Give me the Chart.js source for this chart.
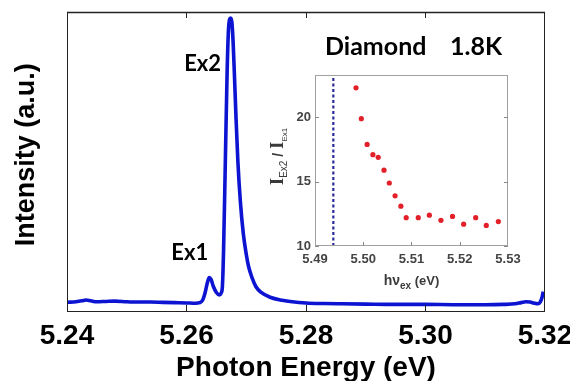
<!DOCTYPE html>
<html><head><meta charset="utf-8">
<script src="https://cdn.jsdelivr.net/npm/chart.js@4/dist/chart.umd.min.js"></script>
<style>
html,body{margin:0;padding:0;background:#fff;}
#wrap{position:relative;width:570px;height:381px;overflow:hidden;background:#fff;}
#main{position:absolute;left:0;top:0;}
#inset{position:absolute;left:250px;top:60px;}
</style></head><body>
<div id="wrap">
<canvas id="main" width="570" height="381"></canvas>
<canvas id="inset" width="300" height="245"></canvas>
</div>
<script>
// ---- Main spectrum ----
const photonEnergy = [5.2401,5.2415,5.2425,5.2432,5.2440,5.2450,5.2465,5.2480,5.2500,5.2520,5.2540,5.2560,5.2580,5.2600,5.2615,5.2622,5.2627,5.2631,5.2635,5.2638,5.2641,5.2645,5.2650,5.2655,5.2658,5.2660,5.2662,5.2665,5.2668,5.2670,5.2672,5.2674,5.2676,5.2678,5.2680,5.2683,5.2686,5.2690,5.2695,5.2700,5.2704,5.2710,5.2716,5.2725,5.2740,5.2760,5.2777,5.2800,5.2830,5.2860,5.2900,5.2950,5.3000,5.3050,5.3100,5.3130,5.3150,5.3160,5.3168,5.3175,5.3182,5.3188,5.3192,5.3195,5.3197];
const intensity = [0.029,0.031,0.034,0.037,0.034,0.031,0.032,0.033,0.031,0.030,0.030,0.029,0.028,0.027,0.026,0.028,0.036,0.060,0.095,0.112,0.106,0.082,0.062,0.054,0.060,0.080,0.20,0.50,0.80,0.93,0.975,0.98,0.965,0.90,0.80,0.64,0.50,0.37,0.26,0.19,0.148,0.11,0.082,0.062,0.046,0.036,0.031,0.027,0.025,0.024,0.023,0.022,0.022,0.021,0.021,0.022,0.024,0.028,0.031,0.030,0.026,0.024,0.030,0.045,0.065];
const mainTickValues = [5.24,5.26,5.28,5.30,5.32];
const mainTickLabels = ['5.24','5.26','5.28','5.30','5.32'];
const peakLabels = ['Ex1','Ex2'];
const peakEnergies = [5.2638,5.2673];
const sampleLabel = ['Diamond','1.8K'];

// ---- Inset ----
const excitationEnergy = [5.4985,5.4996,5.5008,5.5020,5.5031,5.5043,5.5054,5.5066,5.5078,5.5089,5.5114,5.5137,5.5161,5.5185,5.5208,5.5233,5.5255,5.5280];
const intensityRatio = [22.3,19.9,17.9,17.1,16.9,15.9,14.9,13.9,13.1,12.2,12.2,12.4,12.0,12.3,11.7,12.2,11.6,11.9];
const thresholdEnergy = 5.4938;
const insetTickValuesX = [5.49,5.50,5.51,5.52,5.53];
const insetTickLabelsX = ['5.49','5.50','5.51','5.52','5.53'];
const insetTickValuesY = [10,15,20];
const insetTickLabelsY = ['10','15','20'];

function labelFor(values, labels){
  return v => { const i = values.findIndex(t => Math.abs(t - v) < 1e-9); return i >= 0 ? labels[i] : ''; };
}

const mainDecor = {
  id: 'mainDecor',
  afterDatasetsDraw(chart){
    const {ctx, chartArea:a, scales:{x}} = chart;
    ctx.save();
    ctx.strokeStyle = '#222'; ctx.lineWidth = 1;
    ctx.strokeRect(a.left + 0.5, a.top + 0.5, a.right - a.left - 1, a.bottom - a.top);
    ctx.lineWidth = 1.5;
    ctx.beginPath(); ctx.moveTo(a.left, a.top + 0.5); ctx.lineTo(a.right, a.top + 0.5); ctx.stroke();
    ctx.lineWidth = 1;
    mainTickValues.slice(1, -1).forEach(v => {
      const px = Math.round(x.getPixelForValue(v)) + 0.5;
      ctx.beginPath(); ctx.moveTo(px, a.top); ctx.lineTo(px, a.top + 6);
      ctx.moveTo(px, a.bottom); ctx.lineTo(px, a.bottom - 6); ctx.stroke();
    });
    ctx.fillStyle = '#000';
    ctx.font = 'bold 22px Lato';
    ctx.textAlign = 'right'; ctx.textBaseline = 'alphabetic';
    ctx.fillText(peakLabels[1], x.getPixelForValue(peakEnergies[1]) - 9, 71);
    ctx.fillText(peakLabels[0], x.getPixelForValue(peakEnergies[0]) - 1, 260);
    ctx.textAlign = 'left';
    ctx.font = 'bold 25px Lato';
    ctx.fillText(sampleLabel[0], 325, 55);
    ctx.fillText(sampleLabel[1], 450, 55);
    ctx.restore();
  }
};

new Chart(document.getElementById('main'), {
  type: 'line',
  data: { datasets: [{
    data: photonEnergy.map((e, i) => ({x: e, y: intensity[i]})),
    borderColor: '#0c14d2', borderWidth: 3.6, pointRadius: 0,
    cubicInterpolationMode: 'monotone', fill: false
  }]},
  options: {
    responsive: false, animation: false, devicePixelRatio: 1,
    layout: { padding: { top: 12, right: 25, left: 0, bottom: 0 } },
    plugins: { legend: { display: false }, tooltip: { enabled: false } },
    scales: {
      x: {
        type: 'linear', min: 5.24, max: 5.32,
        afterFit(s){ s.height = 70; s.paddingLeft = 0; s.paddingRight = 0; },
        afterBuildTicks(s){ s.ticks = mainTickValues.map(v => ({value: v})); },
        ticks: { callback: labelFor(mainTickValues, mainTickLabels), font: {family: 'Liberation Sans', size: 28, weight: 'bold'}, color: '#000', padding: 8, maxRotation: 0, autoSkip: false },
        grid: { display: false, drawTicks: false }, border: { display: false },
        title: { display: true, text: 'Photon Energy (eV)', font: {family: 'Liberation Sans', size: 28, weight: 'bold'}, color: '#000', padding: {top: 0, bottom: -4} }
      },
      y: {
        min: 0, max: 1,
        afterFit(s){ s.width = 67; s.paddingTop = 0; s.paddingBottom = 0; },
        ticks: { display: false }, grid: { display: false, drawTicks: false }, border: { display: false },
        title: { display: true, text: '\u2002Intensity (a.u.)', font: {family: 'Liberation Sans', size: 27, weight: 'bold'}, color: '#000', padding: {top: 10, bottom: 0} }
      }
    }
  },
  plugins: [mainDecor]
});

const insetDecor = {
  id: 'insetDecor',
  afterDatasetsDraw(chart){
    const {ctx, chartArea:a, scales:{x, y}} = chart;
    ctx.save();
    ctx.strokeStyle = '#a0a0a0'; ctx.lineWidth = 1;
    ctx.strokeRect(a.left + 0.5, a.top + 0.5, a.right - a.left - 1, a.bottom - a.top - 1);
    ctx.strokeStyle = '#888';
    insetTickValuesY.forEach(v => {
      const py = Math.round(y.getPixelForValue(v)) + 0.5;
      ctx.beginPath(); ctx.moveTo(a.left, py); ctx.lineTo(a.left + 4, py);
      ctx.moveTo(a.right, py); ctx.lineTo(a.right - 4, py); ctx.stroke();
    });
    insetTickValuesX.slice(1, -1).forEach(v => {
      const px = Math.round(x.getPixelForValue(v)) + 0.5;
      ctx.beginPath(); ctx.moveTo(px, a.bottom); ctx.lineTo(px, a.bottom - 4); ctx.stroke();
    });
    ctx.fillStyle = '#3a3a3a';
    ctx.textBaseline = 'alphabetic'; ctx.textAlign = 'left';
    const parts = [
      {t: 'h\u03bd', f: 'bold 14px "Liberation Sans"', dy: 0},
      {t: 'ex', f: 'bold 10px "Liberation Sans"', dy: 4},
      {t: ' (eV)', f: 'bold 13px "Liberation Sans"', dy: 0}
    ];
    drawParts(ctx, parts, (a.left + a.right) / 2, 225);
    ctx.save();
    ctx.translate(26.5, (a.top + a.bottom) / 2 - 4);
    ctx.rotate(-Math.PI / 2);
    const yparts = [
      {t: 'I', f: 'bold 19px "Liberation Serif"', dy: 0},
      {t: 'Ex2', f: '10px "Liberation Sans"', dy: 4},
      {t: ' / ', f: 'bold 14px "Liberation Sans"', dy: 0},
      {t: 'I', f: 'bold 19px "Liberation Serif"', dy: 0},
      {t: 'Ex1', f: '8px "Liberation Sans"', dy: 4}
    ];
    drawParts(ctx, yparts, 0, 6);
    ctx.restore();
    ctx.restore();
  }
};
function drawParts(ctx, parts, cx, baseY){
  let w = 0;
  parts.forEach(p => { ctx.font = p.f; p.w = ctx.measureText(p.t).width; w += p.w; });
  let xx = cx - w / 2;
  parts.forEach(p => { ctx.font = p.f; ctx.fillText(p.t, xx, baseY + p.dy); xx += p.w; });
}

new Chart(document.getElementById('inset'), {
  type: 'scatter',
  data: { datasets: [
    { data: excitationEnergy.map((e, i) => ({x: e, y: intensityRatio[i]})), backgroundColor: '#e3202a', borderColor: '#e3202a', pointRadius: 2.6, pointBorderWidth: 0, showLine: false },
    { type: 'line', data: [{x: thresholdEnergy, y: 10}, {x: thresholdEnergy, y: 23.3}], borderColor: '#2a2a9a', borderWidth: 2.2, borderDash: [3, 2.5], pointRadius: 0 }
  ]},
  options: {
    responsive: false, animation: false, devicePixelRatio: 1,
    layout: { padding: { top: 15, right: 42, left: 0, bottom: 0 } },
    plugins: { legend: { display: false }, tooltip: { enabled: false } },
    scales: {
      x: {
        type: 'linear', min: 5.49, max: 5.53,
        afterFit(s){ s.height = 59; s.paddingLeft = 0; s.paddingRight = 0; },
        afterBuildTicks(s){ s.ticks = insetTickValuesX.map(v => ({value: v})); },
        ticks: { callback: labelFor(insetTickValuesX, insetTickLabelsX), font: {family: 'Liberation Sans', size: 13, weight: 'bold'}, color: '#444', padding: 6, maxRotation: 0, autoSkip: false },
        grid: { display: false, drawTicks: false }, border: { display: false }
      },
      y: {
        min: 10, max: 23.3,
        afterFit(s){ s.width = 65; s.paddingTop = 0; s.paddingBottom = 0; },
        afterBuildTicks(s){ s.ticks = insetTickValuesY.map(v => ({value: v})); },
        ticks: { callback: labelFor(insetTickValuesY, insetTickLabelsY), font: {family: 'Liberation Sans', size: 13, weight: 'bold'}, color: '#444', padding: 4 },
        grid: { display: false, drawTicks: false }, border: { display: false }
      }
    }
  },
  plugins: [insetDecor]
});
</script>
</body></html>
